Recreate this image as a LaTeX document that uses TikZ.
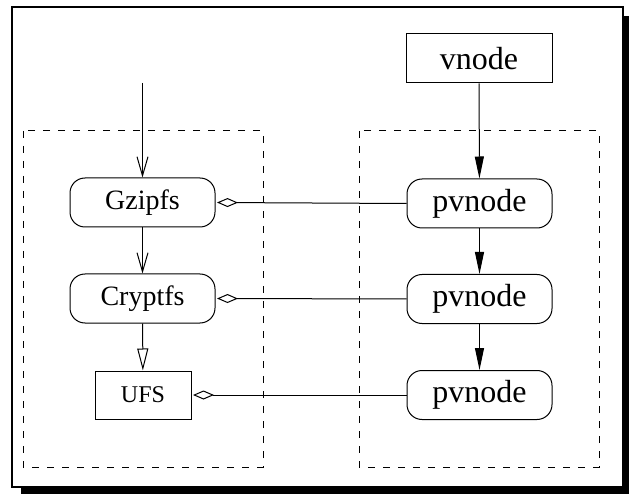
\documentclass[tikz,border=0pt]{standalone}
\usepackage{fontspec}
\setmainfont{Liberation Serif}
\usetikzlibrary{arrows.meta}
\tikzset{
  rbox/.style={draw, line width=1pt, rounded corners=15pt, minimum width=145pt, minimum height=49pt, inner sep=0pt},
  sbox/.style={draw, line width=1pt, inner sep=0pt},
  grp/.style={draw, line width=1pt, dash pattern=on 7pt off 8pt},
  conn/.style={line width=1pt},
  filled/.style={conn, -{Triangle[length=22pt,width=9pt]}},
  vopen/.style={conn, -{Straight Barb[length=19pt,width=11pt,line width=1pt]}},
  hollow/.style={conn, -{Triangle[open,length=22pt,width=11pt,line width=1pt]}},
  agg/.style={conn, -{Diamond[open,length=21pt,width=9pt,line width=1pt]}},
  bigfont/.style={font=\rmfamily\fontsize{32}{36}\selectfont},
  midfont/.style={font=\rmfamily\fontsize{28}{32}\selectfont},
  smallfont/.style={font=\rmfamily\fontsize{24}{28}\selectfont}
}
\begin{document}
\begin{tikzpicture}[x=1pt,y=-1pt]
\useasboundingbox (0,0) rectangle (629,494);
% frame with shadow
\fill[black] (21,16) rectangle (640,505);
\filldraw[fill=white, draw=black, line width=2pt] (12,7) rectangle (623,487);
% groups
\draw[grp] (23,131) rectangle (263,467);
\draw[grp] (359,131) rectangle (599,467);
% nodes
\node[sbox, bigfont, minimum width=146pt, minimum height=49pt] (vn) at (479,58.5) {vnode};
\node[rbox, bigfont] (p1) at (479.5,203.5) {pvnode};
\node[rbox, bigfont] (p2) at (479.5,299) {pvnode};
\node[rbox, bigfont] (p3) at (479.5,395) {pvnode};
\node[rbox, midfont] (gz) at (142.5,202.5) {Gzipfs};
\node[rbox, midfont] (cr) at (142.5,298.5) {Cryptfs};
\node[sbox, smallfont, minimum width=96pt, minimum height=48pt] (ufs) at (143,395) {UFS};
\coordinate (top) at (142.5,83);
% connectors
\draw[vopen] (top) -- (gz.north);
\draw[vopen] (gz) -- (cr);
\draw[hollow] (cr) -- (ufs);
\draw[filled] (vn) -- (p1);
\draw[filled] (p1) -- (p2);
\draw[filled] (p2) -- (p3);
\draw[agg] (p1.west) -- ([xshift=1.5pt]gz.east);
\draw[agg] (p2.west) -- ([xshift=1.5pt]cr.east);
\draw[agg] (p3.west) -- ([xshift=1.5pt]ufs.east);
\end{tikzpicture}
\end{document}
